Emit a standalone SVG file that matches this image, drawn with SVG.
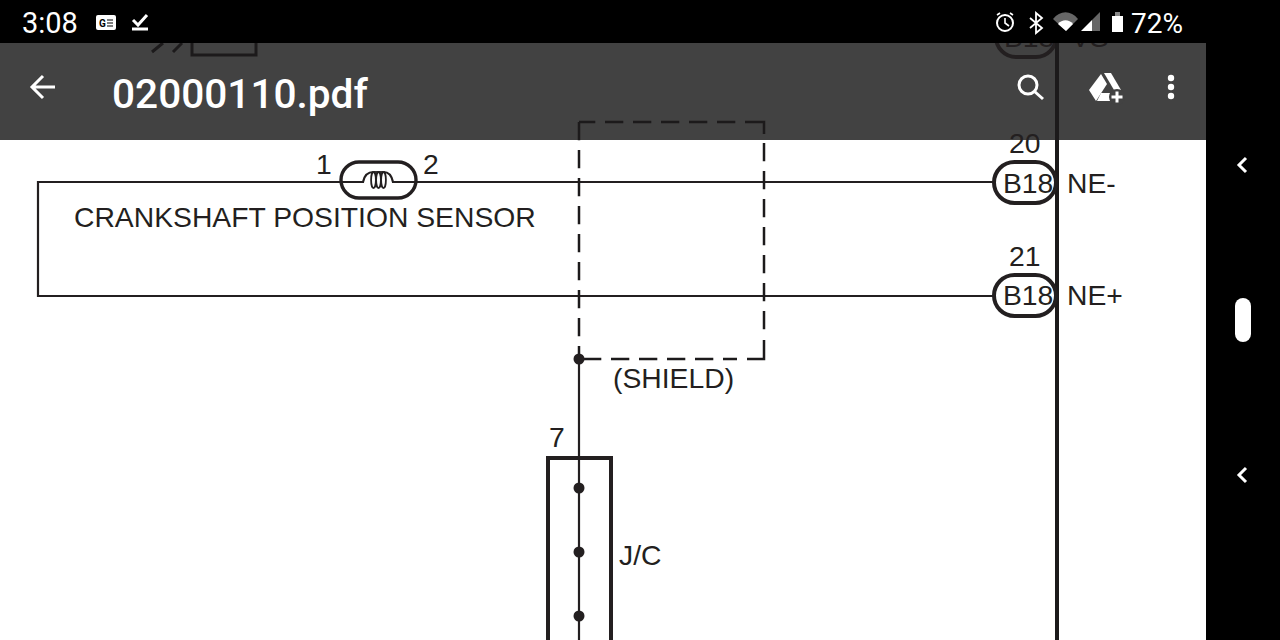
<svg xmlns="http://www.w3.org/2000/svg" width="1280" height="640" viewBox="0 0 1280 640">
<style>
.t{font-family:"Liberation Sans",Arial,sans-serif;fill:#231f20;font-size:28.3px}
.r{font-family:Roboto,"Liberation Sans",sans-serif;fill:#fff}
.w{fill:none;stroke:#231f20;stroke-width:2.2}
.d{fill:none;stroke:#1c1a1b;stroke-width:2.5;stroke-dasharray:18.3 9.7}
.ds{fill:none;stroke:#1c1a1b;stroke-width:2.5}
.b{fill:none;stroke:#231f20;stroke-width:4}
.i{fill:#fff}
.s{fill:none;stroke:#fff;stroke-width:3}
.c{fill:none;stroke:#231f20;stroke-width:1.8}
</style>
<rect width="1280" height="640" fill="#000"/>
<g id="appbar">
<rect y="43" width="1206" height="97" fill="#424242"/>
<path class="s" d="M32 87H55M43 76L32 87L43 98"/>
<text class="r" x="112" y="108" font-size="40.6" font-weight="500">02000110.pdf</text>
<circle cx="1028" cy="85" r="9" class="s"/>
<path class="s" stroke-width="3.4" d="M1034 91L1043 99"/>
<path class="i" d="M1101 74L1107 84L1096 101L1089 90Z"/>
<path class="i" d="M1104 73H1111L1121 90H1114Z"/>
<path class="i" d="M1101 93H1110V101H1097Z"/>
<circle cx="1117" cy="97" r="8" fill="#424242"/>
<path d="M1117 91.5V102.5M1111.5 97H1122.5" stroke="#fff" stroke-width="3" fill="none"/>
<circle cx="1171" cy="78" r="3.2" class="i"/><circle cx="1171" cy="87" r="3.2" class="i"/><circle cx="1171" cy="96" r="3.2" class="i"/>
</g>
<rect id="page" y="140" width="1206" height="500" fill="#fff"/>
<g id="offscreen-parts">
<path d="M152 52L163 43M173 52L182 43M192 43V55H256V43" fill="none" stroke="#1c1a1b" stroke-width="3"/>
<rect x="996" y="16" width="60" height="41" rx="20" class="b"/>
<text class="t" x="1004" y="47">B18</text>
<text class="t" x="1071" y="47">VS</text>
</g>
<g id="connectors">
<path class="w" d="M994 182H38V296H994"/>
<path class="d" d="M579 122V359"/>
<path class="d" stroke-dashoffset="2" d="M579 122H745"/>
<path class="ds" d="M745 122H764V134"/>
<path class="d" d="M764 143V335"/>
<path class="ds" d="M764 340V359H747"/>
<path class="d" d="M583 359H737"/>
<path class="w" d="M579 359V640"/>
<path d="M1057 43V640" fill="none" stroke="#1c1a1b" stroke-width="4"/>
</g>
<g id="sensor">
<rect x="341" y="162" width="75" height="36" rx="18" fill="#fff" stroke="#231f20" stroke-width="3.4"/>
<path class="w" d="M341 182H363Q365 172 373.5 172M383.5 172Q391 172 393 182H416"/>
<path class="c" d="M373.5 172H383.5"/>
<ellipse class="c" cx="373.5" cy="180" rx="2.4" ry="8"/>
<ellipse class="c" cx="378.5" cy="180" rx="2.4" ry="8"/>
<ellipse class="c" cx="383.5" cy="180" rx="2.4" ry="8"/>
<text class="t" x="316" y="174">1</text>
<text class="t" x="423" y="174">2</text>
<text class="t" x="74" y="227">CRANKSHAFT POSITION SENSOR</text>
</g>
<g id="b18-20">
<rect x="994" y="162" width="62" height="41" rx="20.5" fill="#fff"/>
<rect x="994" y="162" width="62" height="41" rx="20.5" class="b"/>
<text class="t" x="1003" y="193">B18</text>
<text class="t" x="1009" y="153">20</text>
<text class="t" x="1067" y="193">NE-</text>
</g>
<g id="b18-21">
<rect x="994" y="275" width="62" height="41" rx="20.5" fill="#fff"/>
<rect x="994" y="275" width="62" height="41" rx="20.5" class="b"/>
<text class="t" x="1003" y="305">B18</text>
<text class="t" x="1009" y="266">21</text>
<text class="t" x="1067" y="305">NE+</text>
</g>
<g id="shield">
<circle cx="579" cy="359" r="5.5" fill="#231f20"/>
<text class="t" x="613" y="388">(SHIELD)</text>
</g>
<g id="jc">
<path class="b" d="M548 640V458H611V640"/>
<text class="t" x="549" y="447">7</text>
<circle cx="579" cy="488" r="5.5" fill="#231f20"/>
<circle cx="579" cy="552" r="5.5" fill="#231f20"/>
<circle cx="579" cy="616" r="5.5" fill="#231f20"/>
<text class="t" x="619" y="565">J/C</text>
</g>
<g id="statusbar">
<rect width="1280" height="43" fill="#000"/>
<text class="r" x="22" y="33" font-size="29">3:08</text>
<rect x="96" y="15" width="20" height="15" rx="2" class="i"/>
<text x="99" y="27" font-size="10" font-weight="700" font-family="Roboto,sans-serif" fill="#000">G</text>
<path d="M107 20H113M107 23H113M107 26H113" stroke="#000" stroke-width="1.2"/>
<path class="s" stroke-width="2.5" d="M133 20L138 25L147 15"/>
<path d="M132 29H148" stroke="#fff" stroke-width="3"/>
<circle cx="1005" cy="23" r="8" fill="none" stroke="#fff" stroke-width="2"/>
<path d="M1005 18V23L1009 26M997 15L1000 13M1010 13L1013 15" fill="none" stroke="#fff" stroke-width="1.6"/>
<path d="M1030 18L1042 28L1036 33V13L1042 18L1030 28" fill="none" stroke="#fff" stroke-width="1.8"/>
<path fill="#666" d="M1053 19C1060 10 1071 10 1078 19L1066 31Z"/>
<path class="i" d="M1058 24C1062 19 1069 19 1073 24L1066 31Z"/>
<path class="i" d="M1081 31L1092 20V31Z"/>
<path fill="#666" d="M1092 20L1100 12V31H1092Z"/>
<path class="i" d="M1112 16H1123V32H1112Z"/>
<rect x="1115" y="12" width="5" height="4" fill="#888"/>
<text class="r" x="1131" y="33" font-size="28">72%</text>
</g>
<g id="navbar">
<path class="s" stroke-width="2.6" d="M1246 158L1239 165L1246 172M1246 468L1239 475L1246 482"/>
<rect x="1235" y="298" width="16" height="44" rx="8" class="i"/>
</g>
</svg>
